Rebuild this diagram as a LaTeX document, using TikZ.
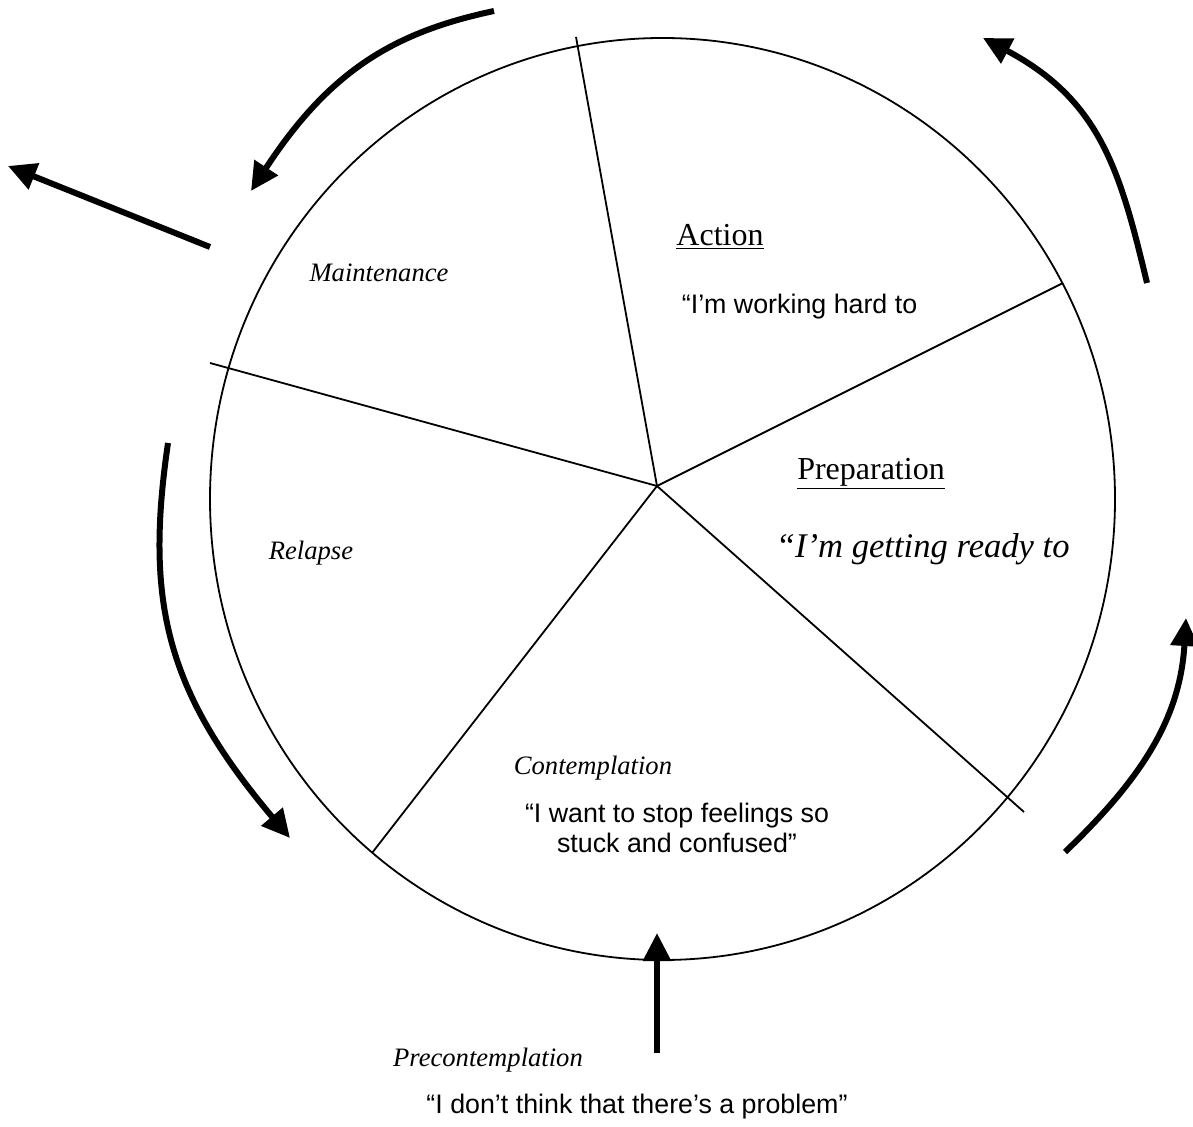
\documentclass[tikz,border=0pt]{standalone}
\usepackage{fontspec}
\setmainfont{Liberation Serif}
\newfontfamily\arialfont{Liberation Sans}
\usetikzlibrary{arrows.meta}

\begin{document}
\begin{tikzpicture}[x=0.5pt, y=-0.5pt, line width=0.9pt,
    bigarrow/.style={line width=3pt, -{Triangle[length=14pt,width=13.5pt]}},
    stage/.style={inner sep=0pt, font=\fontsize{13.3}{16}\selectfont\itshape},
    stagehead/.style={inner sep=0pt, font=\fontsize{16}{19}\selectfont},
    saying/.style={inner sep=0pt, align=center, font=\fontsize{13.4}{14.6}\selectfont\arialfont}]
    \useasboundingbox (0,0) rectangle (1193,1127);
    % wheel
    \draw (662.5,499) ellipse [x radius=452.5, y radius=461];
    \coordinate (c) at (657,486);
    \coordinate (s1) at (576,37);
    \coordinate (s2) at (1063,283);
    \coordinate (s3) at (1024,812);
    \coordinate (s4) at (372,853);
    \coordinate (s5) at (210,363);
    \foreach \i in {1,...,5}
        \draw (c) -- (s\i);
    % stages
    \node[stage] (maint) at (379,273) {Maintenance};
    \node[stagehead] (action) at (720,237) {\underline{Action}};
    \node[saying, anchor=west] (actq) at (681,307) {“I’m working hard to};
    \node[stagehead] (prep) at (871,474) {\underline{Preparation}};
    \node[anchor=west, inner sep=0pt, font=\fontsize{17.3}{20}\selectfont\itshape] (prepq) at (775,549) {“I’m getting ready to};
    \node[stage] (relapse) at (311,553) {Relapse};
    \node[stage] (contemp) at (593,768) {Contemplation};
    \node[saying] (contq) at (677,828) {“I want to stop feelings so\\stuck and confused”};
    \node[stage] (precon) at (488,1060) {Precontemplation};
    \node[saying] (preconq) at (637,1107) {“I don’t think that there’s a problem”};
    % arrows
    \coordinate (a1) at (494,11);
    \coordinate (b1) at (251,191);
    \draw[bigarrow] (a1) .. controls (395,32) and (330,70) .. (b1);
    \coordinate (a2) at (210,247);
    \coordinate (b2) at (8,166);
    \draw[bigarrow] (a2) -- (b2);
    \coordinate (a3) at (168,443);
    \coordinate (b3) at (290,838);
    \draw[bigarrow] (a3) .. controls (145,600) and (165,690) .. (b3);
    \coordinate (a4) at (1147,283);
    \coordinate (b4) at (983,38);
    \draw[bigarrow] (a4) .. controls (1120,170) and (1100,100) .. (b4);
    \coordinate (a5) at (1065,852);
    \coordinate (b5) at (1186,618);
    \draw[bigarrow] (a5) .. controls (1140,780) and (1180,720) .. (b5);
    \coordinate (a6) at (657,1053);
    \coordinate (b6) at (657,933);
    \draw[bigarrow] (a6) -- (b6);
\end{tikzpicture}
\end{document}
